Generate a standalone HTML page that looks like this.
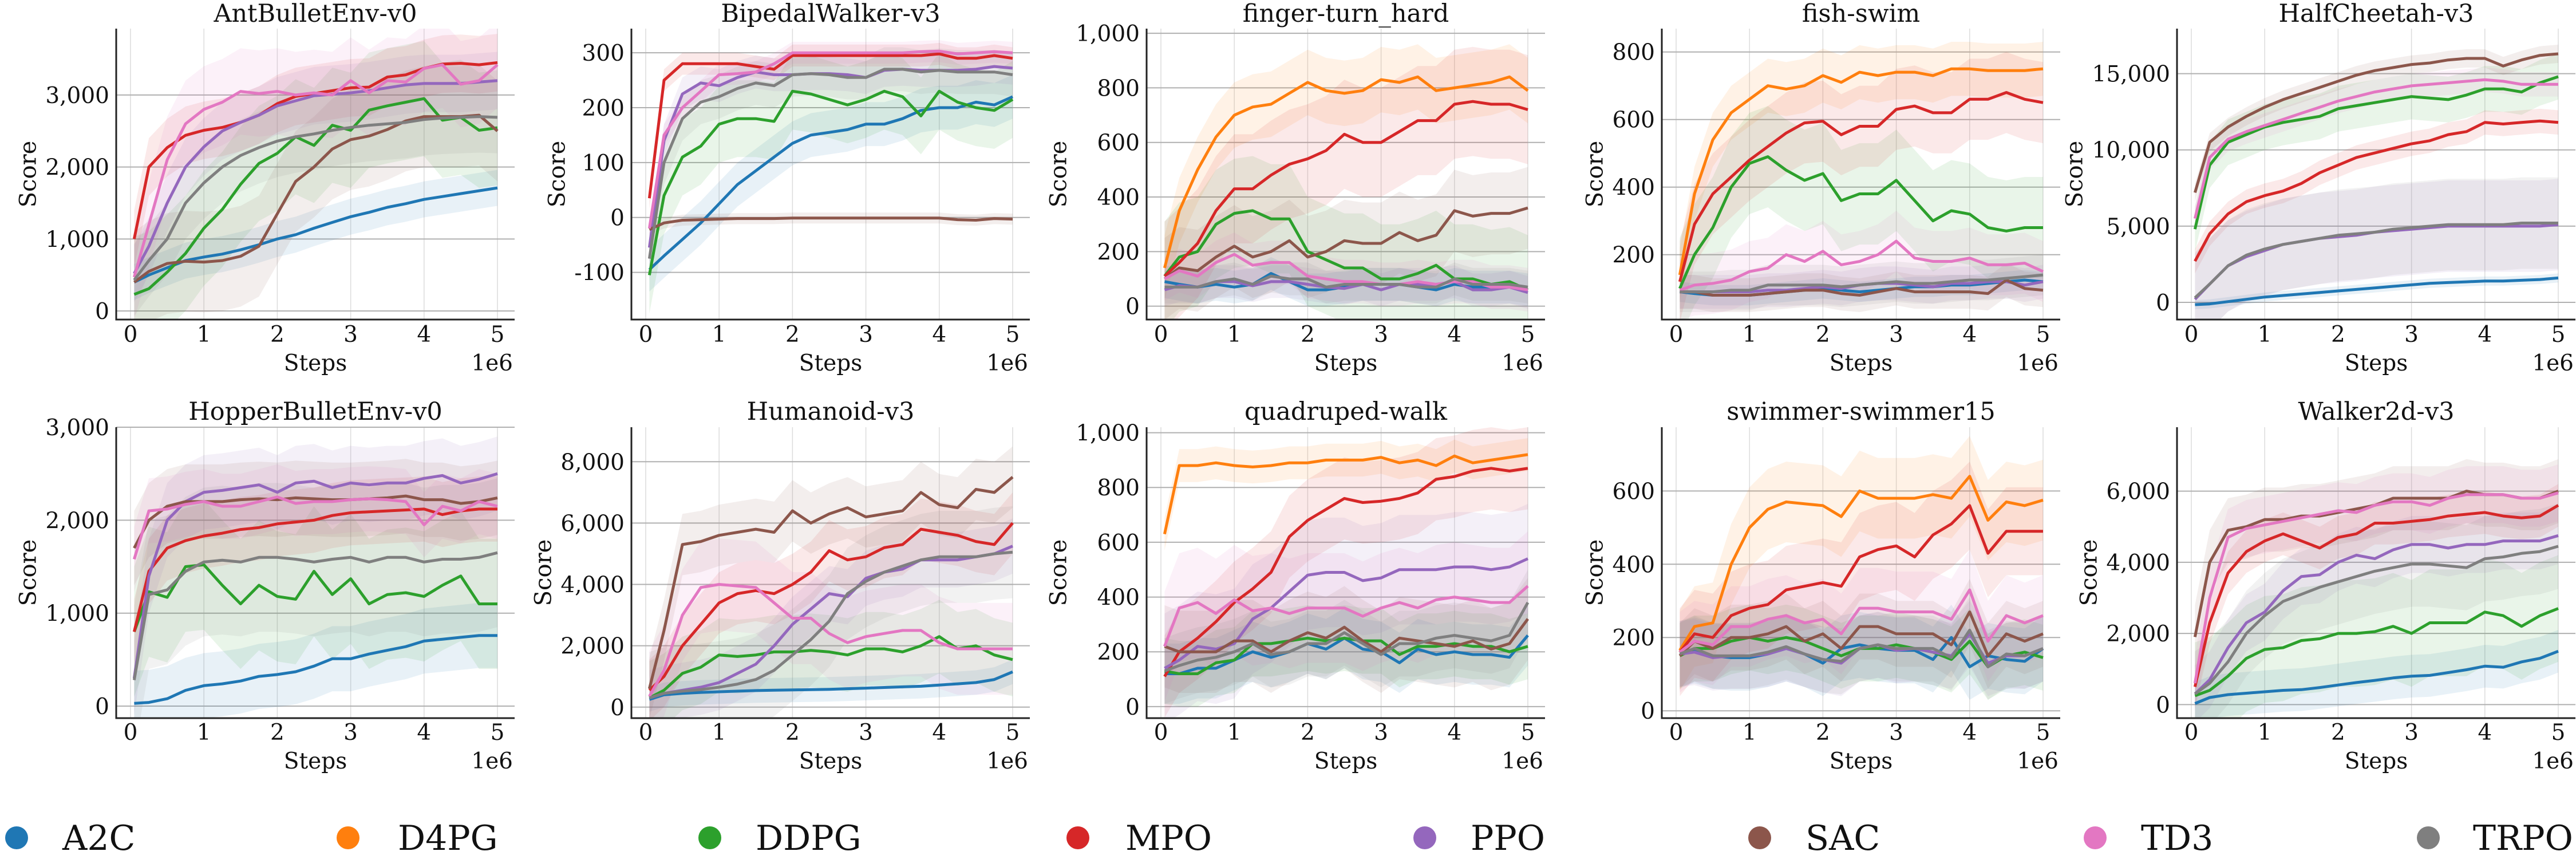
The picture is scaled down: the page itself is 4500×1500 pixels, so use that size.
<!DOCTYPE html>
<html><head><meta charset="utf-8">
<style>
html,body{margin:0;padding:0;background:#fff;}
svg{display:block;font-family:"DejaVu Serif","Liberation Serif",serif;}
</style></head>
<body>
<svg id="fig" xmlns="http://www.w3.org/2000/svg" width="4500" height="1500" viewBox="0 0 4500 1500">
<rect width="4500" height="1500" fill="#fff"/>
</svg>
<script>
const algorithms = ["A2C","D4PG","DDPG","MPO","PPO","SAC","TD3","TRPO"];
const colors = ["#1f77b4","#ff7f0e","#2ca02c","#d62728","#9467bd","#8c564b","#e377c2","#7f7f7f"];
const steps = [0.05,0.25,0.5,0.75,1,1.25,1.5,1.75,2,2.25,2.5,2.75,3,3.25,3.5,3.75,4,4.25,4.5,4.75,5];
const xTicks = [0,1,2,3,4,5];
const envTitles = ["AntBulletEnv-v0","BipedalWalker-v3","finger-turn_hard","fish-swim","HalfCheetah-v3","HopperBulletEnv-v0","Humanoid-v3","quadruped-walk","swimmer-swimmer15","Walker2d-v3"];
const yRanges = [[-119,3922],[-186,344],[-49,1017],[8,869],[-1127,17953],[-129,3000],[-359,9126],[-42,1020],[-20,774],[-380,7796]];
const yTicks = [[0,1000,2000,3000],[-100,0,100,200,300],[0,200,400,600,800,1000],[200,400,600,800],[0,5000,10000,15000],[0,1000,2000,3000],[0,2000,4000,6000,8000],[0,200,400,600,800,1000],[0,200,400,600],[0,2000,4000,6000]];

// ---- per-environment mean scores (order: A2C,D4PG,DDPG,MPO,PPO,SAC,TD3,TRPO) ----
const antScores = [
 [400,500,600,700,750,790,850,920,1000,1060,1150,1230,1310,1370,1440,1490,1550,1590,1630,1670,1710],
 null,
 [230,310,540,800,1150,1410,1760,2050,2190,2420,2300,2580,2510,2790,2850,2900,2950,2650,2690,2510,2545],
 [1000,2000,2270,2440,2510,2550,2620,2720,2880,2980,3020,3060,3100,3110,3250,3280,3370,3430,3440,3420,3450],
 [520,900,1500,2000,2280,2500,2620,2720,2850,2920,2990,3010,3030,3060,3100,3140,3160,3160,3160,3180,3200],
 [400,550,660,690,680,700,760,900,1350,1800,2000,2250,2380,2430,2520,2640,2700,2700,2700,2720,2500],
 [470,1200,2100,2600,2800,2900,3050,3020,3050,3000,3030,3000,3200,3030,3200,3180,3370,3420,3150,3200,3420],
 [430,700,1000,1500,1780,2000,2160,2270,2360,2420,2460,2510,2550,2580,2600,2620,2660,2680,2690,2700,2690]];
const antSpread = [250,0,800,400,400,700,600,500];

const bipedalScores = [
 [-95,-70,-40,-10,25,60,85,110,135,150,155,160,170,170,180,195,200,200,210,205,220],
 null,
 [-105,40,110,130,170,180,180,175,230,225,215,205,215,230,220,185,230,210,200,195,215],
 [35,250,280,280,280,280,275,270,295,295,295,295,295,295,295,295,298,290,290,295,290],
 [-55,140,225,245,240,255,265,260,260,262,262,260,255,268,270,268,268,268,270,275,272],
 [-22,-10,-5,-4,-3,-2,-2,-2,-1,-1,-1,-1,-1,-1,-1,-1,-1,-4,-5,-2,-3],
 [-20,150,200,230,260,262,265,280,300,300,300,300,300,300,300,302,303,298,300,302,300],
 [-75,100,180,210,220,235,245,240,260,262,260,255,255,270,270,265,268,265,265,265,260]];
const bipedalSpread = [40,0,70,20,30,10,20,40];

const fingerScores = [
 [90,80,70,80,70,80,120,90,60,60,70,80,80,80,70,60,80,70,70,70,60],
 [140,350,500,620,700,730,740,780,820,790,780,790,830,820,840,790,800,810,820,840,790],
 [110,180,200,300,340,350,320,320,200,170,140,140,100,100,120,150,100,100,80,90,60],
 [110,160,230,350,430,430,480,520,540,570,630,600,600,640,680,680,740,750,740,740,720],
 [60,75,70,90,90,75,90,90,80,70,65,80,60,80,80,80,90,60,60,70,50],
 [100,140,130,180,220,180,200,240,180,200,240,230,230,270,240,260,350,330,340,340,360],
 [100,130,110,160,190,150,160,160,110,100,90,90,80,80,90,80,90,90,70,70,60],
 [70,70,70,90,100,80,110,100,100,70,80,80,80,80,70,70,100,80,80,80,70]];
const fingerSpread = [60,120,200,200,60,150,80,60];

const fishScores = [
 [90,85,80,80,80,85,90,95,100,95,90,95,100,105,105,110,110,115,120,125,120],
 [140,380,540,620,660,700,690,700,730,710,740,730,740,740,730,750,750,745,745,745,750],
 [100,200,280,400,470,490,450,420,440,360,380,380,420,360,300,330,320,280,270,280,280],
 [120,290,380,430,480,520,560,590,595,555,580,580,630,640,620,620,660,660,680,660,650],
 [90,90,90,90,90,95,95,100,105,100,110,115,115,110,105,115,115,120,120,110,120],
 [90,90,80,80,80,85,90,95,95,85,80,90,100,90,90,90,90,85,125,100,95],
 [95,110,115,125,150,160,200,180,210,170,180,200,240,190,180,180,190,170,170,175,150],
 [90,90,90,95,95,110,110,110,110,105,110,115,120,115,115,120,125,125,130,135,140]];
const fishSpread = [30,80,150,120,50,50,90,60];

const cheetahScores = [
 [-150,-100,50,200,350,450,550,650,750,850,950,1050,1150,1250,1300,1350,1400,1400,1450,1500,1600],
 null,
 [4800,9000,10500,11000,11500,11800,12000,12200,12700,12900,13100,13300,13500,13400,13300,13600,14000,14000,13800,14400,14800],
 [2700,4500,5800,6600,7000,7300,7800,8500,9000,9500,9800,10100,10400,10600,11000,11200,11800,11700,11800,11900,11800],
 [200,1200,2400,3000,3400,3800,4000,4200,4300,4400,4600,4700,4800,4900,5000,5000,5000,5000,5000,5000,5100],
 [7200,10500,11500,12200,12800,13300,13700,14100,14500,14900,15200,15400,15600,15700,15900,16000,16000,15500,15900,16200,16300],
 [5500,9500,10700,11200,11600,12000,12400,12800,13200,13500,13800,14000,14200,14300,14400,14500,14600,14500,14300,14300,14300],
 [300,1200,2400,3100,3500,3800,4000,4200,4400,4500,4600,4800,4900,5000,5100,5100,5100,5100,5200,5200,5200]];
const cheetahSpread = [300,0,1500,800,3000,600,800,3000];

const hopperScores = [
 [30,40,80,170,220,240,270,320,340,370,430,510,510,560,600,640,700,720,740,760,760],
 null,
 [800,1230,1170,1500,1520,1300,1100,1300,1180,1150,1450,1200,1370,1100,1200,1220,1180,1300,1400,1100,1100],
 [800,1450,1700,1780,1830,1860,1900,1920,1960,1980,2000,2050,2080,2090,2100,2110,2120,2060,2100,2120,2120],
 [300,1400,2000,2200,2300,2320,2350,2380,2300,2400,2420,2350,2400,2380,2400,2400,2450,2480,2400,2440,2500],
 [1700,2000,2150,2200,2200,2200,2220,2230,2220,2240,2230,2220,2220,2230,2240,2260,2220,2220,2180,2200,2240],
 [1580,2100,2120,2170,2200,2150,2150,2200,2250,2180,2200,2200,2220,2230,2220,2200,1950,2150,2100,2200,2150],
 [280,1200,1250,1450,1550,1570,1550,1600,1600,1580,1550,1580,1600,1550,1600,1600,1550,1580,1580,1600,1650]];
const hopperSpread = [350,0,700,350,400,400,350,800];

const humanoidScores = [
 [250,400,450,480,500,520,540,550,560,570,580,600,620,640,660,680,720,760,800,900,1150],
 null,
 [300,550,1100,1300,1700,1650,1700,1800,1800,1850,1800,1700,1900,1900,1800,2000,2300,1900,2000,1700,1550],
 [550,1000,2000,2700,3400,3700,3800,3700,4000,4400,5100,4800,4900,5200,5300,5800,5700,5600,5400,5300,6000],
 [300,450,550,650,800,1100,1400,2000,2700,3200,3700,3600,4200,4400,4500,4800,4800,4800,4900,5000,5250],
 [600,2500,5300,5400,5600,5700,5800,5700,6400,6000,6300,6500,6200,6300,6400,7000,6600,6500,7100,7000,7500],
 [350,1200,3000,3900,4000,3950,3900,3400,2900,2900,2400,2100,2300,2400,2500,2500,2100,1900,1900,1900,1900],
 [300,450,520,570,650,750,900,1200,1700,2200,2800,3700,4100,4400,4600,4800,4900,4900,4900,5000,5050]];
const humanoidSpread = [400,0,1200,1000,900,1000,1500,1500];

const quadrupedScores = [
 [120,120,140,140,170,200,180,200,230,210,250,210,200,160,210,190,200,190,190,180,260],
 [630,880,880,890,880,875,880,890,890,900,900,900,910,890,900,880,915,890,900,910,920],
 [130,120,120,160,170,230,230,240,250,240,250,240,240,190,220,220,230,220,220,200,220],
 [110,200,250,310,380,430,490,620,680,720,760,745,750,760,780,830,840,860,870,860,870],
 [140,170,220,210,230,320,360,420,480,490,490,460,470,500,500,500,510,510,500,510,540],
 [220,200,200,200,240,240,200,240,270,250,290,240,200,250,240,230,220,240,210,230,320],
 [220,360,380,340,390,350,360,340,360,360,360,330,360,380,360,390,400,390,380,380,440],
 [130,150,170,180,200,230,190,200,230,230,270,230,190,230,230,250,260,250,240,260,380]];
const quadrupedSpread = [110,60,120,150,200,150,200,120];

const swimmerScores = [
 [155,165,150,145,145,155,170,155,130,170,180,170,165,165,140,200,120,150,140,135,170],
 [165,230,240,400,500,550,570,565,560,530,600,580,580,580,590,580,640,520,570,560,575],
 [150,170,170,190,200,190,200,190,170,150,170,170,180,170,160,140,190,120,150,160,145],
 [160,210,200,260,280,290,330,340,350,340,420,440,450,420,480,510,560,430,490,490,490],
 [155,160,145,150,150,155,170,155,140,130,170,180,165,170,160,150,210,130,150,150,170],
 [150,190,170,200,200,210,230,190,210,170,230,230,210,210,210,180,270,150,210,190,210],
 [160,190,180,230,230,250,260,240,250,210,280,280,270,270,270,250,330,190,260,240,260],
 [155,170,150,150,150,160,175,155,140,135,170,180,170,170,170,145,220,120,155,150,170]];
const swimmerSpread = [90,110,90,120,90,90,110,90];

const walkerScores = [
 [30,200,280,320,360,400,420,480,550,620,680,750,800,820,900,980,1080,1050,1200,1300,1500],
 null,
 [250,400,800,1300,1550,1600,1800,1850,2000,2000,2050,2200,2000,2300,2300,2300,2600,2500,2200,2500,2700],
 [500,2300,3700,4300,4600,4800,4600,4400,4700,4800,5100,5100,5150,5200,5300,5350,5400,5300,5250,5300,5600],
 [300,700,1600,2300,2600,3200,3600,3650,4000,4200,4100,4350,4500,4500,4400,4500,4500,4600,4600,4600,4750],
 [1900,4000,4900,5000,5200,5200,5300,5300,5400,5500,5600,5800,5800,5800,5800,6000,5900,5900,5800,5800,6000],
 [600,3000,4700,4950,5050,5150,5250,5350,5450,5400,5600,5700,5700,5600,5800,5900,5900,5900,5800,5800,5950],
 [300,600,1200,2000,2500,2900,3100,3300,3450,3600,3750,3850,3950,3950,3900,3850,4100,4150,4250,4300,4450]];
const walkerSpread = [600,0,1500,600,800,900,800,1200];

const allScores = [antScores,bipedalScores,fingerScores,fishScores,cheetahScores,hopperScores,humanoidScores,quadrupedScores,swimmerScores,walkerScores];
const allSpreads = [antSpread,bipedalSpread,fingerSpread,fishSpread,cheetahSpread,hopperSpread,humanoidSpread,quadrupedSpread,swimmerSpread,walkerSpread];

const NS = "http://www.w3.org/2000/svg";
const fig = document.getElementById("fig");
function mk(tag, attrs, parent){ const e=document.createElementNS(NS,tag); for(const k in attrs) e.setAttribute(k,attrs[k]); (parent||fig).appendChild(e); return e; }
function fmt(v){ return v.toLocaleString("en-US"); }

for(let p=0;p<10;p++){
  const col=p%5, row=Math.floor(p/5);
  const L=203+900*col, R=L+696;
  const T=row===0?50:746, B=row===0?558:1254;
  const X0=L+25, XW=641;
  const [ymin,ymax]=yRanges[p];
  const sx=v=>X0+v/5*XW;
  const sy=v=>B-(v-ymin)/(ymax-ymin)*(B-T);
  const g=mk("g",{});
  
  
  const cp=mk("clipPath",{id:"clip"+p},g);
  mk("rect",{x:L,y:T,width:R-L,height:B-T},cp);
  // vertical grid
  xTicks.forEach(t=>{
    const ln=mk("line",{x1:sx(t),x2:sx(t),y1:T,y2:B,stroke:"#dcdcdc","stroke-width":1.5},g);
    
    
    const tx=mk("text",{x:sx(t),y:(row===0?597:1292),"font-size":39,"text-anchor":"middle",fill:"#111"},g);
    tx.textContent=t;
    
    
  });
  let minLeft=1e9;
  yTicks[p].forEach(t=>{
    const y=sy(t);
    const ln=mk("line",{x1:L,x2:R,y1:y,y2:y,stroke:"#b0b0b0","stroke-width":2},g);
    
    
    const tx=mk("text",{x:L-12,y:y+14,"font-size":39,"text-anchor":"end",fill:"#111"},g);
    tx.textContent=fmt(t);
    
    
    try{ const bb=tx.getBBox(); if(bb.width>0) minLeft=Math.min(minLeft,bb.x); }catch(e){}
  });
  if(minLeft>1e8) minLeft=L-130;
  const dg=mk("g",{"clip-path":"url(#clip"+p+")"},g);
  const scores=allScores[p], spr=allSpreads[p];
  // bands
  scores.forEach((s,i)=>{
    if(!s) return;
    let d="";
    steps.forEach((x,k)=>{ d+=(k?"L":"M")+sx(x).toFixed(1)+","+sy(s[k]+spr[i]).toFixed(1); });
    for(let k=steps.length-1;k>=0;k--) d+="L"+sx(steps[k]).toFixed(1)+","+sy(s[k]-spr[i]).toFixed(1);
    const band=mk("path",{d:d+"Z",fill:colors[i],"fill-opacity":0.1,stroke:"none"},dg);
    
    
  });
  // lines
  scores.forEach((s,i)=>{
    if(!s) return;
    let d="";
    steps.forEach((x,k)=>{ d+=(k?"L":"M")+sx(x).toFixed(1)+","+sy(s[k]).toFixed(1); });
    const line=mk("path",{d:d,fill:"none",stroke:colors[i],"stroke-width":5,"stroke-linejoin":"round"},dg);
    
    
  });
  // spines
  const sp1=mk("line",{x1:L,x2:L,y1:T,y2:B+1.5,stroke:"#222","stroke-width":3},g);
  
  
  const sp2=mk("line",{x1:L-1.5,x2:R,y1:B,y2:B,stroke:"#222","stroke-width":3},g);
  
  
  // title
  const ti=mk("text",{x:(L+R)/2,y:(row===0?38:733),"font-size":43,"text-anchor":"middle",fill:"#111"},g);
  ti.textContent=envTitles[p];
  
  
  const xl=mk("text",{x:(L+R)/2,y:(row===0?647:1342),"font-size":39,"text-anchor":"middle",fill:"#111"},g);
  xl.textContent="Steps";
  
  
  const ex=mk("text",{x:R-3,y:(row===0?647:1342),"font-size":39,"text-anchor":"end",fill:"#111"},g);
  ex.textContent="1e6";
  
  
  const cy=(T+B)/2, bx=minLeft-17;
  const yl=mk("text",{x:bx,y:cy,"font-size":40,"text-anchor":"middle",fill:"#111",transform:"rotate(-90 "+bx+" "+cy+")"},g);
  yl.textContent="Score";
  
  
}
// legend
const legendDotX=[29,608,1240,1883,2489,3074,3660,4242];
const legendTextX=[109,695,1320,1966,2569,3154,3740,4320];
algorithms.forEach((a,i)=>{
  const g=mk("g",{});
  
  
  mk("circle",{cx:legendDotX[i],cy:1463,r:20,fill:colors[i]},g);
  const t=mk("text",{x:legendTextX[i],y:1484,"font-size":60,fill:"#111"},g);
  t.textContent=a;
});
</script>
</body></html>
